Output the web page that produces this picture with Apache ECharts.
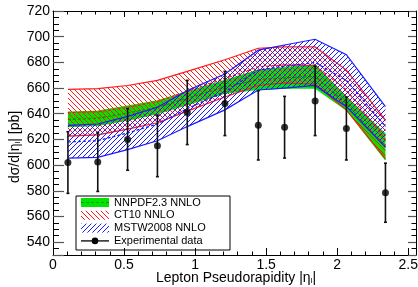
<!DOCTYPE html>
<html>
<head>
<meta charset="utf-8">
<script src="https://cdn.jsdelivr.net/npm/echarts@6/dist/echarts.min.js"></script>
<style>
  html, body { margin: 0; padding: 0; background: #fff; }
  #chart { width: 418px; height: 287px; }
</style>
</head>
<body>
<div id="chart"></div>
<script>
// bin centres in |eta_l|
const etaBins = [0.105, 0.315, 0.525, 0.735, 0.945, 1.21, 1.445, 1.63, 1.845, 2.065, 2.34];

// theory bands (pb)
const nnpdfUp  = [641, 642, 646, 650, 657, 666, 674, 676, 678, 653, 624];
const nnpdfLo  = [630, 631, 635, 640, 647, 656, 659, 660, 660, 643, 604];
const nnpdfMid = [635.5, 636.5, 640.5, 645, 652, 661, 666.5, 668, 669, 648, 614];
const ct10Up   = [659, 659.5, 662, 666, 673, 682, 691, 692, 692, 674, 635];
const ct10Lo   = [622.5, 623.5, 628, 633, 642, 653, 662, 664, 663, 643, 605];
const ct10Mid  = [641, 641.5, 645, 649.5, 657.5, 667.5, 676.5, 678, 677.5, 658.5, 620];
const mstwUp   = [631, 632, 638, 645, 658, 671, 689.5, 693.5, 698, 686, 645.5];
const mstwLo   = [605.5, 606, 612, 619, 630, 643, 658.5, 660, 662, 645.5, 614];
const mstwMid  = [618, 619, 625, 632, 644, 657, 674, 677, 680, 666, 630];

// measured points
const dataVal = [602, 602.5, 620, 615, 641, 648, 631, 629.5, 650, 628.5, 578.5];
const dataErr = [24, 23, 24, 24, 25, 25, 27, 24, 27, 24.5, 23];

const legendNames = ['NNPDF2.3 NNLO', 'CT10 NNLO', 'MSTW2008 NNLO', 'Experimental data'];
const xTitle = 'Lepton Pseudorapidity |η{s|l}|';
const yTitle = 'dσ/d|η{s|l}| [pb]';

const GREEN = '#00e400', RED = '#ff1a1a', BLUE = '#1a1aff';

// small canvas used as a repeating hatch fill
function hatch(color, forward, size) {
  const c = document.createElement('canvas');
  c.width = size; c.height = size;
  const ctx = c.getContext('2d');
  ctx.strokeStyle = color;
  ctx.lineWidth = 1;
  ctx.beginPath();
  if (forward) {
    ctx.moveTo(0, size); ctx.lineTo(size, 0);
    ctx.moveTo(-1, 1); ctx.lineTo(1, -1);
    ctx.moveTo(size - 1, size + 1); ctx.lineTo(size + 1, size - 1);
  } else {
    ctx.moveTo(0, 0); ctx.lineTo(size, size);
    ctx.moveTo(size - 1, -1); ctx.lineTo(size + 1, 1);
    ctx.moveTo(-1, size - 1); ctx.lineTo(1, size + 1);
  }
  ctx.stroke();
  return c;
}

const redHatch = { image: hatch(RED, false, 5), repeat: 'repeat' };
const blueHatch = { image: hatch(BLUE, true, 5), repeat: 'repeat' };

const pairs = (ys) => etaBins.map((x, i) => [x, ys[i]]);

// one custom series per band: filled polygon + edges + dashed centre line
function bandSeries(name, lo, up, mid, color, fill, midColor, z) {
  return {
    type: 'custom', name: name, z: z, silent: true,
    data: [[etaBins[0], lo[0]]],
    renderItem: function (params, api) {
      const U = up.map((v, i) => api.coord([etaBins[i], v]));
      const L = lo.map((v, i) => api.coord([etaBins[i], v]));
      const M = mid.map((v, i) => api.coord([etaBins[i], v]));
      return {
        type: 'group', children: [
          { type: 'polygon', shape: { points: U.concat(L.slice().reverse()) }, style: { fill: fill } },
          { type: 'polyline', shape: { points: U }, style: { stroke: color, lineWidth: 1.2, fill: null } },
          { type: 'polyline', shape: { points: L }, style: { stroke: color, lineWidth: 1.2, fill: null } },
          { type: 'polyline', shape: { points: M }, style: { stroke: midColor, lineWidth: 1.2, fill: null, lineDash: [3, 2] } }
        ]
      };
    }
  };
}

const chart = echarts.init(document.getElementById('chart'));

const tickLine = { color: '#000', width: 1 };
const fmt = (step) => (v) => {
  const r = v / step;
  return Math.abs(r - Math.round(r)) < 1e-6 ? String(+v.toFixed(2)) : '';
};
const subRich = { s: { fontSize: 8, verticalAlign: 'bottom' } };
const titleFont = '14px "Liberation Sans", Arial, sans-serif';

const legendTop = 196, legendLeft = 76, rowH = 12.8;
const legendItems = [];
legendItems.push({ type: 'rect', shape: { x: legendLeft, y: legendTop, width: 154, height: 54 },
  style: { fill: '#fff', stroke: '#000', lineWidth: 1 } });
const iconX = legendLeft + 5, iconW = 28, iconH = 9;
legendNames.forEach((n, i) => {
  const cy = legendTop + 6.5 + i * rowH;
  if (i === 0) {
    legendItems.push({ type: 'rect', shape: { x: iconX, y: cy - iconH / 2, width: iconW, height: iconH }, style: { fill: GREEN } });
    legendItems.push({ type: 'line', shape: { x1: iconX, y1: cy, x2: iconX + iconW, y2: cy }, style: { stroke: '#00a000', lineWidth: 1.2, lineDash: [3, 2] } });
  } else if (i === 1) {
    legendItems.push({ type: 'rect', shape: { x: iconX, y: cy - iconH / 2, width: iconW, height: iconH }, style: { fill: redHatch } });
  } else if (i === 2) {
    legendItems.push({ type: 'rect', shape: { x: iconX, y: cy - iconH / 2, width: iconW, height: iconH }, style: { fill: blueHatch } });
  } else {
    legendItems.push({ type: 'line', shape: { x1: iconX, y1: cy, x2: iconX + iconW, y2: cy }, style: { stroke: '#222', lineWidth: 1.5 } });
    legendItems.push({ type: 'circle', shape: { cx: iconX + iconW / 2, cy: cy, r: 3.3 }, style: { fill: '#000' } });
  }
  legendItems.push({ type: 'text', x: iconX + iconW + 5, y: cy,
    style: { text: n, font: '11px "Liberation Sans", Arial, sans-serif', fill: '#000', verticalAlign: 'middle' } });
});

const option = {
  animation: false,
  backgroundColor: '#fff',
  grid: { left: 53, right: 2, top: 11, bottom: 32, outerBoundsMode: 'none' },
  xAxis: [
    {
      type: 'value', min: 0, max: 2.555, minInterval: 0.5, maxInterval: 0.5, position: 'bottom',
      axisLine: { show: true, onZero: false, lineStyle: tickLine },
      axisTick: { inside: true, length: 7, lineStyle: tickLine },
      minorTick: { show: true, splitNumber: 5, length: 3.5, lineStyle: tickLine },
      axisLabel: { fontSize: 14, color: '#000', margin: 3, fontFamily: 'Liberation Sans', formatter: fmt(0.5) },
      splitLine: { show: false }
    },
    {
      type: 'value', min: 0, max: 2.555, minInterval: 0.5, maxInterval: 0.5, position: 'top',
      axisLine: { show: true, onZero: false, lineStyle: tickLine },
      axisTick: { inside: true, length: 6, lineStyle: tickLine },
      minorTick: { show: true, splitNumber: 5, length: 3.5, lineStyle: tickLine },
      axisLabel: { show: false }, splitLine: { show: false }
    }
  ],
  yAxis: [
    {
      type: 'value', min: 530, max: 720, minInterval: 20, maxInterval: 20, position: 'left',
      axisLine: { show: true, onZero: false, lineStyle: tickLine },
      axisTick: { inside: true, length: 11, lineStyle: { color: '#555', width: 1.2 } },
      minorTick: { show: true, splitNumber: 4, length: 6, lineStyle: tickLine },
      axisLabel: { fontSize: 14, color: '#000', margin: 3, fontFamily: 'Liberation Sans', formatter: fmt(20) },
      splitLine: { show: false }
    },
    {
      type: 'value', min: 530, max: 720, minInterval: 20, maxInterval: 20, position: 'right',
      axisLine: { show: true, onZero: false, lineStyle: tickLine },
      axisTick: { inside: true, length: 8, lineStyle: { color: '#555', width: 1.2 } },
      minorTick: { show: true, splitNumber: 4, length: 4.5, lineStyle: tickLine },
      axisLabel: { show: false }, splitLine: { show: false }
    }
  ],
  series: [
    bandSeries('NNPDF', nnpdfLo, nnpdfUp, nnpdfMid, GREEN, GREEN, '#009000', 2),
    bandSeries('CT10', ct10Lo, ct10Up, ct10Mid, RED, redHatch, RED, 3),
    bandSeries('MSTW', mstwLo, mstwUp, mstwMid, BLUE, blueHatch, BLUE, 4),
    {
      type: 'custom', name: 'err', z: 10,
      data: etaBins.map((x, i) => [x, dataVal[i], dataErr[i]]),
      renderItem: function (params, api) {
        const x = api.value(0), y = api.value(1), e = api.value(2);
        const top = api.coord([x, y + e]);
        const bot = api.coord([x, y - e]);
        const st = { stroke: '#111', lineWidth: 1.6 };
        return {
          type: 'group', children: [
            { type: 'line', shape: { x1: top[0], y1: top[1], x2: bot[0], y2: bot[1] }, style: st },
            { type: 'line', shape: { x1: top[0] - 1.5, y1: top[1], x2: top[0] + 1.5, y2: top[1] }, style: st },
            { type: 'line', shape: { x1: bot[0] - 1.5, y1: bot[1], x2: bot[0] + 1.5, y2: bot[1] }, style: st }
          ]
        };
      }
    },
    {
      type: 'scatter', name: legendNames[3], z: 11, symbol: 'circle', symbolSize: 7,
      itemStyle: { color: '#000' }, data: pairs(dataVal)
    }
  ],
  graphic: [
    { type: 'group', z: 100, children: legendItems },
    {
      type: 'text', x: 15, y: 147, rotation: Math.PI / 2, z: 100,
      style: { text: yTitle, font: titleFont, fill: '#000', align: 'center', verticalAlign: 'middle', rich: subRich }
    },
    {
      type: 'text', x: 236, y: 278, z: 100,
      style: { text: xTitle, font: titleFont, fill: '#000', align: 'center', verticalAlign: 'middle', rich: subRich }
    }
  ]
};

chart.setOption(option);
</script>
</body>
</html>
